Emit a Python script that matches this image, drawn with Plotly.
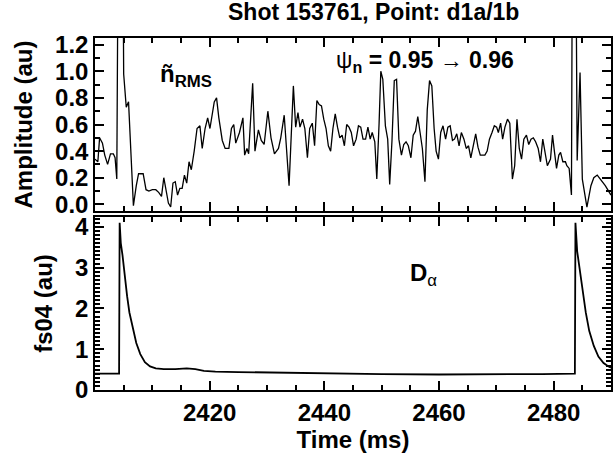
import plotly.graph_objects as go

# ---- data: top panel (n_RMS amplitude) ----
t_rms = [2400.0, 2400.5, 2400.8, 2401.3, 2401.7, 2402.2, 2402.7, 2403.2, 2403.5, 2403.8,
         2404.1, 2404.8, 2405.0, 2405.45, 2405.85, 2406.3, 2406.7,
         2407.2, 2407.6, 2408.0, 2408.4, 2408.9, 2409.4, 2410.0, 2410.6, 2411.1, 2411.6,
         2412.0, 2412.4, 2412.8, 2413.2, 2413.6, 2414.0, 2414.4, 2414.8, 2415.2, 2415.6,
         2416.0, 2416.4, 2416.8, 2417.3, 2417.8, 2418.3, 2418.7, 2419.2, 2419.65, 2420.05,
         2420.8, 2421.2, 2421.6, 2422.2, 2422.7, 2423.35, 2423.8, 2424.2, 2424.55, 2425.2,
         2425.8, 2426.1, 2426.5, 2426.8, 2427.5, 2427.9, 2428.5, 2429.0, 2429.5, 2430.15,
         2430.7, 2431.3, 2432.0, 2432.4, 2433.0, 2433.85, 2434.6, 2435.0, 2435.4, 2435.75,
         2436.2, 2436.6, 2437.05, 2437.45, 2437.9, 2438.3, 2438.7, 2439.1, 2439.5, 2439.9,
         2440.3, 2440.7, 2441.1, 2441.5, 2441.9, 2442.3, 2442.7, 2443.1, 2443.5, 2443.9,
         2444.3, 2444.7, 2445.1, 2445.55, 2445.95, 2446.35, 2446.75, 2447.2, 2447.6, 2448.0,
         2448.35, 2448.8, 2449.15, 2449.55, 2449.85, 2450.2, 2450.65, 2451.05, 2451.4, 2451.8,
         2452.2, 2452.6, 2453.0, 2453.45, 2453.85, 2454.25, 2454.65, 2455.1, 2455.5, 2455.9,
         2456.3, 2456.7, 2457.1, 2457.55, 2457.95, 2458.35, 2458.75, 2459.15, 2459.5, 2459.9,
         2460.3, 2460.7, 2461.15, 2461.55, 2461.95, 2462.35, 2462.7, 2463.1, 2463.5, 2463.9,
         2464.35, 2464.75, 2465.15, 2465.55, 2465.95, 2466.4, 2466.8, 2467.2, 2467.6, 2468.0,
         2468.4, 2468.8, 2469.25, 2469.65, 2470.05, 2470.35, 2470.75, 2471.1, 2471.5, 2471.95,
         2472.35, 2472.8, 2473.2, 2473.6, 2474.0, 2474.4, 2474.8, 2475.25, 2475.65, 2476.05,
         2476.45, 2476.85, 2477.3, 2477.7, 2478.1, 2478.5, 2478.9, 2479.45, 2479.8, 2480.15,
         2480.5, 2480.9, 2481.2, 2481.6, 2482.05, 2482.3, 2482.7, 2483.1, 2483.3, 2483.8,
         2484.1, 2484.6, 2485.0, 2485.8, 2486.5, 2487.0, 2487.6, 2488.3, 2489.0, 2490.0]
v_rms = [0.34, 0.32, 0.50, 0.46, 0.37, 0.30, 0.38, 0.38, 0.35, 0.19,
         2.50, 2.50, 0.98, 0.73, 0.77, 0.35, -0.01,
         0.14, 0.23, 0.23, 0.23, 0.11, 0.10, 0.11, 0.11, 0.09, 0.06,
         0.20, 0.09, 0.01, -0.02, 0.16, 0.17, 0.07, 0.12, 0.12, 0.22,
         0.16, 0.32, 0.26, 0.40, 0.57, 0.59, 0.42, 0.57, 0.65, 0.57,
         0.77, 0.80, 0.65, 0.48, 0.42, 0.42, 0.57, 0.60, 0.46, 0.54,
         0.65, 0.37, 0.42, 0.38, 0.91, 0.40, 0.56, 0.48, 0.45, 0.70,
         0.50, 0.38, 0.42, 0.50, 0.67, 0.14, 0.89, 0.58, 0.69, 0.58,
         0.64, 0.57, 0.35, 0.57, 0.61, 0.44, 0.78, 0.75, 0.74, 0.64,
         0.57, 0.44, 0.40, 0.57, 0.68, 0.58, 0.50, 0.52, 0.44, 0.60,
         0.58, 0.54, 0.44, 0.49, 0.59, 0.58, 0.49, 0.49, 0.58, 0.49,
         0.54, 0.47, 0.19, 0.61, 1.00, 0.94, 0.59, 0.49, 0.15, 0.48,
         0.93, 0.94, 0.49, 0.37, 0.45, 0.47, 0.44, 0.35, 0.52, 0.55,
         0.66, 0.54, 0.42, 0.17, 0.71, 0.93, 0.89, 0.57, 0.40, 0.34,
         0.54, 0.59, 0.49, 0.58, 0.59, 0.48, 0.49, 0.53, 0.44, 0.54,
         0.49, 0.42, 0.44, 0.35, 0.43, 0.53, 0.43, 0.37, 0.37, 0.37,
         0.40, 0.49, 0.54, 0.59, 0.58, 0.54, 0.61, 0.49, 0.58, 0.64,
         0.61, 0.19, 0.29, 0.64, 0.42, 0.34, 0.49, 0.52, 0.45, 0.49,
         0.50, 0.47, 0.42, 0.32, 0.49, 0.39, 0.29, 0.34, 0.52, 0.39,
         0.27, 0.37, 0.39, 0.32, 0.32, 0.29, 0.27, 0.07, 2.50, 2.50,
         0.33, 0.99, 0.19, -0.02, 0.14, 0.20, 0.22, 0.18, 0.14, 0.07]

# ---- data: bottom panel (D-alpha, fs04) ----
t_da = [2400.0, 2404.2, 2404.3, 2404.5, 2404.8, 2405.1, 2405.6, 2406.0, 2406.6, 2407.2,
        2407.9, 2408.7, 2409.6, 2410.6, 2412.0, 2414.0, 2416.0, 2417.5, 2419.0, 2421.0,
        2425.0, 2430.0, 2435.0, 2440.0, 2450.0, 2460.0, 2470.0, 2478.0, 2483.7, 2483.8,
        2484.1, 2484.5, 2485.0, 2485.6, 2486.2, 2487.0, 2487.8, 2488.7, 2489.5, 2490.0]
v_da = [0.40, 0.40, 4.10, 3.60, 3.30, 2.90, 2.30, 1.90, 1.50, 1.15,
        0.88, 0.68, 0.58, 0.53, 0.51, 0.51, 0.53, 0.51, 0.47, 0.45,
        0.44, 0.43, 0.41, 0.40, 0.39, 0.38, 0.38, 0.39, 0.40, 4.10,
        3.40, 3.00, 2.40, 1.90, 1.45, 1.08, 0.82, 0.66, 0.58, 0.55]

top_ticks = [0.0, 0.2, 0.4, 0.6, 0.8, 1.0, 1.2]
top_ticklabels = ["0.0", "0.2", "0.4", "0.6", "0.8", "1.0", "1.2"]
bot_ticks = [0, 1, 2, 3, 4]
x_ticks = [2420, 2440, 2460, 2480]
x_range = [2400, 2490]
top_range = [-0.05, 1.25]
bot_range = [0, 4.24]

FONT = "Liberation Sans, Arial, sans-serif"
FS = 24

fig = go.Figure()
fig.add_trace(go.Scatter(x=t_rms, y=v_rms, mode="lines",
                         line=dict(color="black", width=1.3), xaxis="x", yaxis="y"))
fig.add_trace(go.Scatter(x=t_da, y=v_da, mode="lines",
                         line=dict(color="black", width=1.8), xaxis="x2", yaxis="y2"))
# invisible carriers so the mirrored (top/right) tick axes are drawn
fig.add_trace(go.Scatter(x=t_rms, y=v_rms, mode="lines", opacity=0, hoverinfo="skip",
                         xaxis="x3", yaxis="y3"))
fig.add_trace(go.Scatter(x=t_da, y=v_da, mode="lines", opacity=0, hoverinfo="skip",
                         xaxis="x4", yaxis="y4"))

tickfont = dict(family=FONT, size=FS, color="black", weight="bold")
base = dict(showgrid=False, zeroline=False, ticks="inside", ticklen=9, tickwidth=2,
            tickcolor="black")
main = dict(showline=True, linecolor="black", linewidth=1.5, mirror=True,
            tickfont=tickfont, **base)
mirror_ax = dict(showline=False, showticklabels=False, **base)

xminor = dict(dtick=5, tick0=2400, ticklen=5, tickwidth=1.5, ticks="inside", tickcolor="black")
yminor = dict(dtick=0.1, tick0=0, ticklen=5, tickwidth=1.5, ticks="inside", tickcolor="black")

fig.update_layout(
    width=615, height=460,
    margin=dict(l=95, r=2, t=38, b=70),
    paper_bgcolor="white", plot_bgcolor="white",
    showlegend=False,
    font=dict(family=FONT, size=FS, color="black", weight="bold"),
    xaxis=dict(domain=[0, 1], range=x_range, tickvals=x_ticks, showticklabels=False,
               anchor="y", minor=xminor, **main),
    yaxis=dict(domain=[0.5085, 1.0], range=top_range, tickvals=top_ticks,
               ticktext=top_ticklabels, anchor="x", minor=yminor,
               title=dict(text="Amplitude (au)", standoff=16,
                          font=dict(family=FONT, size=FS, weight="bold")),
               **main),
    xaxis2=dict(domain=[0, 1], range=x_range, tickvals=x_ticks, anchor="y2", minor=xminor,
                title=dict(text="Time (ms)", standoff=4,
                           font=dict(family=FONT, size=FS, weight="bold")),
                **main),
    yaxis2=dict(domain=[0.0, 0.4915], range=bot_range, tickvals=bot_ticks, anchor="x2",
                minor=yminor,
                title=dict(text="fs04 (au)", standoff=16,
                           font=dict(family=FONT, size=FS, weight="bold")),
                **main),
    # mirrored tick marks (top / right sides) incl. minor ticks
    xaxis3=dict(overlaying="x", side="top", anchor="y", range=x_range, tickvals=x_ticks,
                minor=xminor, **mirror_ax),
    yaxis3=dict(overlaying="y", side="right", anchor="x3", range=top_range, tickvals=top_ticks,
                minor=yminor, **mirror_ax),
    xaxis4=dict(overlaying="x2", side="top", anchor="y2", range=x_range, tickvals=x_ticks,
                minor=xminor, **mirror_ax),
    yaxis4=dict(overlaying="y2", side="right", anchor="x4", range=bot_range, tickvals=bot_ticks,
                minor=yminor, **mirror_ax),
)

fig.add_annotation(text="Shot 153761, Point: d1a/1b", xref="paper", yref="paper",
                   x=0.539, y=1.0, yshift=26, showarrow=False, xanchor="center", yanchor="middle",
                   font=dict(family=FONT, size=23, weight="bold"))
fig.add_annotation(text="ñ<sub>RMS</sub>", xref="x", yref="y", x=2411.0, y=0.97,
                   showarrow=False, xanchor="left", yanchor="middle",
                   font=dict(family=FONT, size=FS, weight="bold"))
fig.add_annotation(text="<span style='font-weight:normal'>ψ</span><sub>n</sub> = 0.95 <span style='font-weight:normal'>→</span> 0.96",
                   xref="x", yref="y", x=2441.6, y=1.07,
                   showarrow=False, xanchor="left", yanchor="middle",
                   font=dict(family=FONT, size=23, weight="bold"))
fig.add_annotation(text="D<sub><span style='font-weight:normal'>α</span></sub>", xref="x2", yref="y2",
                   x=2454.6, y=2.82, showarrow=False, xanchor="left", yanchor="middle",
                   font=dict(family=FONT, size=FS, weight="bold"))

fig.write_html("out.html")
